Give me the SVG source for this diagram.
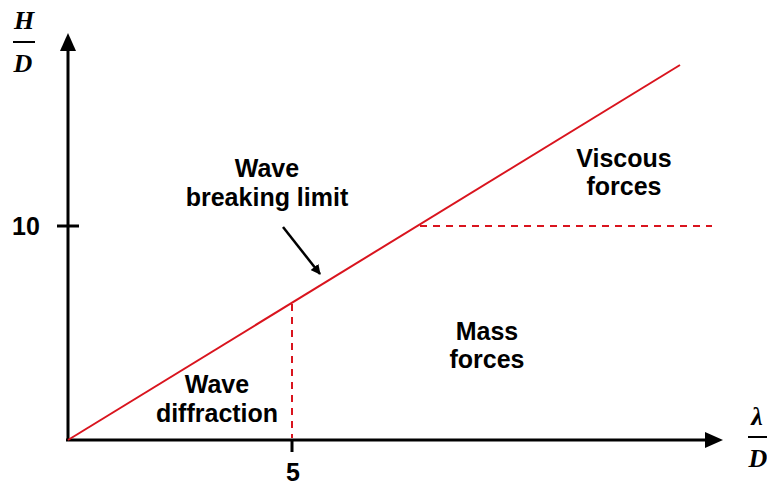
<svg xmlns="http://www.w3.org/2000/svg" width="767" height="485" viewBox="0 0 767 485">
<style>
.lbl{font-family:"Liberation Sans",Arial,sans-serif;font-weight:bold;font-size:25px;fill:#000;text-anchor:middle}
.math{font-family:"Liberation Serif","Times New Roman",serif;font-weight:bold;font-style:italic;font-size:26px;fill:#000;text-anchor:middle}
.axis{stroke:#000;stroke-width:3;fill:none}
.red{stroke:#d9141e;stroke-width:2;fill:none}
.dash{stroke:#d9141e;stroke-width:2;fill:none;stroke-dasharray:7 6}
</style>
<defs>
<marker id="ah" markerWidth="10" markerHeight="10" refX="9" refY="5" orient="auto" markerUnits="userSpaceOnUse" viewBox="0 0 10 10">
<path d="M0,0 L10,5 L0,10 z" fill="#000"/>
</marker>
</defs>
<rect width="767" height="485" fill="#fff"/>
<g id="axes">
<line class="axis" x1="68" y1="441" x2="68" y2="48"/>
<path d="M68,33 L76,51 L60,51 z" fill="#000"/>
<line class="axis" x1="66" y1="440" x2="708" y2="440"/>
<path d="M723,440 L705,432 L705,448 z" fill="#000"/>
<line class="axis" x1="57" y1="226" x2="79" y2="226"/>
<line class="axis" x1="292" y1="440" x2="292" y2="452"/>
<text class="lbl" x="26" y="235">10</text>
<text class="lbl" x="293" y="481">5</text>
</g>
<g id="ylabel">
<text class="math" x="24" y="29">H</text>
<line x1="13" y1="42" x2="35" y2="42" stroke="#000" stroke-width="2"/>
<text class="math" x="23" y="72">D</text>
</g>
<g id="xlabel">
<text class="math" x="757" y="425">λ</text>
<line x1="748" y1="437" x2="767" y2="437" stroke="#000" stroke-width="2"/>
<text class="math" x="758" y="467">D</text>
</g>
<g id="connectors">
<line class="red" x1="68" y1="440" x2="680" y2="65"/>
<line class="dash" x1="292" y1="304" x2="292" y2="438"/>
<line class="dash" x1="420" y1="226" x2="712" y2="226"/>
<line x1="283" y1="227" x2="320" y2="274" stroke="#000" stroke-width="2.5" marker-end="url(#ah)"/>
</g>
<g id="wave-breaking">
<text class="lbl" x="267" y="177">Wave</text>
<text class="lbl" x="267" y="206">breaking limit</text>
</g>
<g id="viscous">
<text class="lbl" x="624" y="167">Viscous</text>
<text class="lbl" x="624" y="195">forces</text>
</g>
<g id="mass">
<text class="lbl" x="487" y="340">Mass</text>
<text class="lbl" x="487" y="368">forces</text>
</g>
<g id="diffraction">
<text class="lbl" x="217" y="393">Wave</text>
<text class="lbl" x="217" y="422">diffraction</text>
</g>
</svg>
